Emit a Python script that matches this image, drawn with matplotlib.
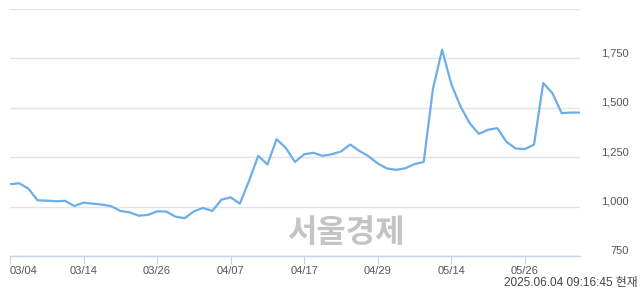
import matplotlib
matplotlib.use("Agg")
import matplotlib.pyplot as plt
import matplotlib.transforms as mtransforms

plt.rcParams['font.family'] = ['Liberation Sans', 'Noto Sans CJK KR', 'DejaVu Sans']

prices = [1113, 1118, 1091, 1032, 1030, 1027, 1029, 1003, 1020, 1015,
          1010, 1002, 978, 971, 954, 958, 976, 975, 949, 941,
          976, 993, 978, 1035, 1047, 1015, 1130, 1257, 1213, 1341,
          1297, 1226, 1265, 1272, 1257, 1265, 1279, 1314, 1282, 1255,
          1218, 1193, 1186, 1194, 1215, 1226, 1595, 1794, 1620, 1507,
          1422, 1368, 1389, 1397, 1328, 1294, 1291, 1314, 1625, 1574,
          1473, 1476, 1476]
xtick_pos = [0, 8, 16, 24, 32, 40, 48, 56]
xtick_labels = ['03/04', '03/14', '03/26', '04/07', '04/17', '04/29', '05/14', '05/26']
ytick_vals = [750, 1000, 1250, 1500, 1750, 2000]
ytick_labels = ['750', '1,000', '1,250', '1,500', '1,750', '']
timestamp = '2025.06.04 09:16:45 현재'
watermark = '서울경제'

W, H = 640, 294
fig = plt.figure(figsize=(W / 100, H / 100), dpi=100)
ax = fig.add_axes([10 / W, (H - 256) / H, 570 / W, 247 / H])

ax.plot(range(len(prices)), prices, color='#6cadea', lw=1.6, solid_joinstyle='round', zorder=3)
ax.set_xlim(0, len(prices) - 1)
ax.set_ylim(750, 2000)

ax.set_yticks(ytick_vals)
ax.set_yticklabels(ytick_labels)
ax.yaxis.tick_right()
ax.tick_params(axis='y', length=0, pad=35, labelsize=8, labelcolor='#555555')
for lab in ax.get_yticklabels():
    lab.set_horizontalalignment('right')
    lab.set_transform(lab.get_transform() + mtransforms.ScaledTranslation(0, 6 / 100, fig.dpi_scale_trans))

ax.set_xticks(xtick_pos)
ax.set_xticklabels(xtick_labels)
ax.tick_params(axis='x', length=5.8, width=0.8, color='#c5d3ea', labelsize=8, labelcolor='#555555', pad=1.5)
ax.get_xticklabels()[0].set_horizontalalignment('left')

ax.grid(axis='y', color='#e3e3e3', lw=1)
ax.set_axisbelow(True)
for s in ['top', 'right', 'left']:
    ax.spines[s].set_visible(False)
ax.spines['bottom'].set_color('#c5d3ea')
ax.spines['bottom'].set_linewidth(1)

fig.text(346 / W, (H - 233) / H, watermark, ha='center', va='center', fontsize=23,
         fontweight='bold', color='#c4c4c4', family=['Noto Sans CJK KR'])
fig.text(638 / W, (H - 283) / H, timestamp, ha='right', va='center', fontsize=8.5, color='#444444')

fig.savefig('out.png', dpi=100)
